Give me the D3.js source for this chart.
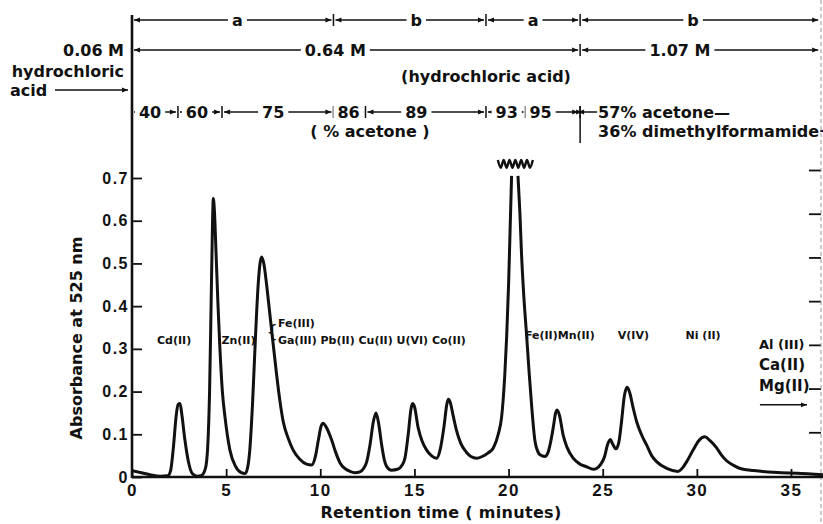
<!DOCTYPE html>
<html>
<head>
<meta charset="utf-8">
<script src="https://cdn.jsdelivr.net/npm/d3@7"></script>
<style>
body { margin: 0; background: #fff; }
svg { display: block; font-family: 'DejaVu Sans', sans-serif; fill: #111; font-weight: bold; }
.axis text { font-size: 16px; letter-spacing: 1.5px; fill: #111; font-weight: bold; }
.axis line { stroke: #111; stroke-width: 1.8px; }
.hdr { font-size: 16px; }
.peak { font-size: 11px; }
</style>
</head>
<body>
<svg id="chart"></svg>
<script>
// chromatogram (minutes, absorbance); null = peak off scale
const retentionTime = [0, 0.5, 1.0, 1.5, 1.9, 2.05, 2.2, 2.35, 2.45, 2.55, 2.65, 2.8, 3.0, 3.2, 3.45, 3.7, 3.9,
  4.02, 4.12, 4.2, 4.27, 4.32, 4.38, 4.46, 4.56, 4.67, 4.8, 4.94, 5.2, 5.5, 5.8, 6.0,
  6.1, 6.25, 6.4, 6.55, 6.7, 6.8, 6.88, 7.0, 7.15, 7.3, 7.45, 7.68, 7.85, 8.03, 8.3, 8.56, 8.9, 9.27, 9.54,
  9.75, 9.9, 10.05, 10.15, 10.3, 10.6, 10.8, 11.05, 11.3, 11.58, 11.84,
  12.1, 12.3, 12.46, 12.64, 12.82, 12.96, 13.1, 13.26, 13.4, 13.52, 13.79,
  14.1, 14.35, 14.5, 14.67, 14.82, 14.9, 15.0, 15.2, 15.4, 15.65, 15.9, 16.18,
  16.36, 16.57, 16.72, 16.8, 16.9, 17.05, 17.23, 17.45, 17.76, 18.0, 18.3,
  18.6, 18.9, 19.19, 19.45, 19.63, 19.8, 19.9, 20.0, 20.07, 20.16, 20.33, 20.5, 20.6, 20.69, 20.8, 20.96,
  21.1, 21.22, 21.4, 21.55, 21.67, 21.93, 22.1, 22.2, 22.37, 22.5, 22.58, 22.7, 22.9, 23.1, 23.43, 23.8,
  24.14, 24.5, 24.67, 24.9, 25.1, 25.25, 25.4, 25.52, 25.7, 25.85, 26.0, 26.15, 26.3, 26.45, 26.6, 26.8,
  27.05, 27.33, 27.6, 27.86, 28.4, 29.0, 29.25, 29.46, 29.8, 30.1, 30.43, 30.7, 31.05, 31.3, 31.58,
  32.0, 32.3, 33.0, 33.5, 34.5, 35.3, 36.7];
const absorbance = [0.015, 0.010, 0.005, 0.002, 0.003, 0.015, 0.07, 0.145, 0.17, 0.172, 0.145, 0.09, 0.035, 0.008, 0.002, 0.004, 0.02,
  0.07, 0.2, 0.4, 0.58, 0.652, 0.62, 0.53, 0.41, 0.30, 0.2, 0.14, 0.063, 0.025, 0.01, 0.008,
  0.015, 0.06, 0.17, 0.32, 0.45, 0.5, 0.515, 0.5, 0.45, 0.39, 0.33, 0.24, 0.18, 0.13, 0.09, 0.063, 0.042, 0.03, 0.028,
  0.05, 0.087, 0.12, 0.126, 0.118, 0.087, 0.06, 0.033, 0.02, 0.013, 0.01,
  0.012, 0.02, 0.035, 0.075, 0.13, 0.15, 0.125, 0.075, 0.04, 0.025, 0.016,
  0.018, 0.028, 0.045, 0.10, 0.16, 0.172, 0.165, 0.115, 0.085, 0.063, 0.05, 0.044,
  0.063, 0.118, 0.17, 0.182, 0.175, 0.145, 0.11, 0.08, 0.058, 0.048, 0.044,
  0.048, 0.056, 0.068, 0.1, 0.14, 0.24, 0.33, 0.45, 0.56, 0.705, null, 0.705, 0.62, 0.52, 0.43, 0.33,
  0.24, 0.17, 0.085, 0.06, 0.052, 0.048, 0.058, 0.075, 0.115, 0.15, 0.157, 0.145, 0.098, 0.07, 0.044, 0.03,
  0.024, 0.018, 0.02, 0.03, 0.048, 0.075, 0.088, 0.078, 0.066, 0.08, 0.13, 0.19, 0.21, 0.195, 0.165, 0.13,
  0.1, 0.075, 0.05, 0.036, 0.02, 0.013, 0.022, 0.036, 0.063, 0.085, 0.094, 0.085, 0.068, 0.052, 0.038,
  0.026, 0.02, 0.015, 0.013, 0.01, 0.009, 0.005];

const xTicks = [0, 5, 10, 15, 20, 25, 30, 35];
const yTicks = [0, 0.1, 0.2, 0.3, 0.4, 0.5, 0.6, 0.7];

// elution programme (minutes where each step changes)
const runEnd = 36.55;
const eluentSteps = [10.7, 18.8, 23.8];
const eluentLabels = ['a', 'b', 'a', 'b'];
const eluentLabelAt = [5.6, 15.1, 21.3, 29.8];
const hclSteps = [23.8];
const hclLabels = ['0.64 M', '1.07 M'];
const hclLabelAt = [10.8, 29.1];
const acetoneSteps = [2.44, 4.78, 10.7, 12.4, 18.8, 20.9, 23.8];
const acetoneLabels = ['40', '60', '75', '86', '89', '93', '95'];
const acetoneLabelAt = [0.96, 3.45, 7.5, 11.5, 15.1, 19.9, 21.7];

// peak names and where they sit (minutes, absorbance)
const peakNames = ['Cd(II)', 'Zn(II)', 'Fe(III)', 'Ga(III) Pb(II) Cu(II) U(VI) Co(II)', 'Fe(II)Mn(II)', 'V(IV)', 'Ni (II)'];
const peakNameT = [1.33, 4.75, 7.75, 7.75, 20.87, 25.8, 29.4];
const peakNameA = [0.32, 0.32, 0.36, 0.32, 0.333, 0.333, 0.333];
const notElutedNames = ['Al (III)', 'Ca(II)', 'Mg(II)'];
const notElutedA = [0.31, 0.262, 0.215];

const chartSize = { width: 823, height: 524 };
const rows = { eluent: 20, hcl: 50, acetone: 112 };

const x = d3.scaleLinear().domain([0, 35]).range([132, 791]);
const y = d3.scaleLinear().domain([0, 0.7]).range([477, 178]);
const yRight = d3.scaleLinear().domain([0, 0.7]).range([476, 170]);

const svg = d3.select('#chart')
  .attr('width', chartSize.width)
  .attr('height', chartSize.height);

svg.append('defs').append('marker')
  .attr('id', 'arrow')
  .attr('viewBox', '0 0 10 10')
  .attr('refX', 10).attr('refY', 5)
  .attr('markerWidth', 7).attr('markerHeight', 6)
  .attr('markerUnits', 'userSpaceOnUse')
  .attr('orient', 'auto-start-reverse')
  .append('path').attr('d', 'M0,1L10,5L0,9Z').attr('fill', '#111');

const hline = (g, x1, x2, cy, start, end) => g.append('line')
  .attr('x1', x1).attr('x2', x2).attr('y1', cy).attr('y2', cy)
  .attr('stroke', '#111').attr('stroke-width', 1.5)
  .attr('marker-start', start ? 'url(#arrow)' : null)
  .attr('marker-end', end ? 'url(#arrow)' : null);

// white patch behind text sitting on a line
const clearBehind = (g) => {
  g.selectAll('text').each(function () {
    const b = this.getBBox();
    g.insert('rect', 'text')
      .attr('x', b.x - 4).attr('y', b.y + 2)
      .attr('width', b.width + 8).attr('height', b.height - 4)
      .attr('fill', '#fff');
  });
};

const drawRow = (cy, steps, labels, labelAt, last) => {
  const g = svg.append('g');
  const bounds = [0, ...steps, last];
  d3.pairs(bounds).forEach(([a, b]) => hline(g, x(a) + 2, x(b) - 2, cy, true, true));
  g.selectAll('.div').data(steps).join('line')
    .attr('x1', d => x(d)).attr('x2', d => x(d))
    .attr('y1', cy - 6).attr('y2', cy + 6)
    .attr('stroke', '#111').attr('stroke-width', 1.5);
  g.selectAll('text').data(labels).join('text')
    .attr('class', 'hdr')
    .attr('x', (d, i) => x(labelAt[i]))
    .attr('y', cy)
    .attr('dy', '0.36em')
    .attr('text-anchor', 'middle')
    .text(d => d);
  clearBehind(g);
  return g;
};

drawRow(rows.eluent, eluentSteps, eluentLabels, eluentLabelAt, runEnd);
drawRow(rows.hcl, hclSteps, hclLabels, hclLabelAt, runEnd);
drawRow(rows.acetone, acetoneSteps, acetoneLabels, acetoneLabelAt, d3.max(acetoneSteps));

// header captions
const cap = (tx, ty, text, anchor) => svg.append('text')
  .attr('class', 'hdr').attr('x', tx).attr('y', ty).attr('dy', '0.36em')
  .attr('text-anchor', anchor || 'start').text(text);

cap(124, rows.hcl, '0.06 M', 'end');
cap(124, 71, 'hydrochloric', 'end');
cap(10, 90, 'acid');
hline(svg, 55, 128, 90, false, true);
cap(486, 76, '(hydrochloric acid)', 'middle');
cap(370, 131, '( %  acetone )', 'middle');

const stepX = x(d3.max(acetoneSteps));
hline(svg, stepX, stepX + 17, rows.acetone, false, false);
cap(stepX + 18, rows.acetone, '57% acetone—');
const dmf = cap(stepX + 18, 131, '36% dimethylformamide');
const dmfEnd = stepX + 18 + dmf.node().getComputedTextLength();
hline(svg, dmfEnd + 3, x(runEnd), 131, false, true);
svg.append('line')
  .attr('x1', stepX).attr('x2', stepX)
  .attr('y1', rows.acetone - 6).attr('y2', 143)
  .attr('stroke', '#111').attr('stroke-width', 1.5);

// axes
const xAxis = svg.append('g').attr('class', 'axis')
  .attr('transform', `translate(0,${y(0)})`)
  .call(d3.axisBottom(x).tickValues(xTicks).tickSize(-8).tickPadding(7).tickFormat(d3.format('d')));
xAxis.select('.domain').remove();
xAxis.selectAll('.tick text').style('font-size', '17px');

const yAxis = svg.append('g').attr('class', 'axis')
  .attr('transform', `translate(${x(0)},0)`)
  .call(d3.axisLeft(y).tickValues(yTicks).tickSize(-10).tickPadding(3)
    .tickFormat(d => d === 0 ? '0' : d.toFixed(1)));
yAxis.select('.domain').remove();

const rAxis = svg.append('g').attr('class', 'axis')
  .attr('transform', 'translate(821,0)')
  .call(d3.axisRight(yRight).tickValues(yTicks.slice(1)).tickSize(-12).tickFormat(''));
rAxis.select('.domain').remove();
svg.append('line')
  .attr('x1', 821).attr('x2', 821).attr('y1', 0).attr('y2', chartSize.height)
  .attr('stroke', '#999').attr('stroke-width', 1).attr('stroke-dasharray', '4,3');

svg.append('line')
  .attr('x1', x(0)).attr('x2', x(0)).attr('y1', 15).attr('y2', y(0) + 1)
  .attr('stroke', '#111').attr('stroke-width', 2.6);
svg.append('line')
  .attr('x1', x(0)).attr('x2', chartSize.width).attr('y1', y(0)).attr('y2', y(0))
  .attr('stroke', '#111').attr('stroke-width', 2.6);

svg.append('text')
  .attr('transform', `translate(82,338) rotate(-90)`)
  .attr('text-anchor', 'middle')
  .style('font-size', '16px')
  .text('Absorbance at 525 nm');
svg.append('text')
  .attr('x', 441).attr('y', 518)
  .attr('text-anchor', 'middle')
  .style('font-size', '16px').style('letter-spacing', '0.3px')
  .text('Retention time ( minutes)');

// trace
const trace = retentionTime.map((t, i) => ({ t, a: absorbance[i] }));
const line = d3.line()
  .defined(d => d.a !== null)
  .x(d => x(d.t))
  .y(d => y(d.a))
  .curve(d3.curveMonotoneX);
svg.append('path')
  .datum(trace)
  .attr('fill', 'none')
  .attr('stroke', '#111')
  .attr('stroke-width', 3)
  .attr('stroke-linejoin', 'round')
  .attr('d', line);

// off-scale mark above the big peak
const zig = d3.range(13).map(i => [x(19.43) + i * (x(21.29) - x(19.43)) / 12, y(i % 2 ? 0.724 : 0.742)]);
svg.append('path')
  .attr('d', d3.line().curve(d3.curveMonotoneX)(zig))
  .attr('fill', 'none').attr('stroke', '#111').attr('stroke-width', 2.4);

// peak labels
svg.selectAll('.peak').data(peakNames).join('text')
  .attr('class', 'peak')
  .attr('x', (d, i) => x(peakNameT[i]))
  .attr('y', (d, i) => y(peakNameA[i]))
  .attr('dy', '0.36em')
  .text(d => d);
svg.append('text')
  .attr('x', x(7.75)).attr('y', y(0.34)).attr('dy', '0.36em')
  .attr('text-anchor', 'end')
  .style('font-size', '18px').style('font-weight', 'normal')
  .text('{');

svg.selectAll('.stay').data(notElutedNames).join('text')
  .attr('class', 'stay')
  .attr('x', x(33.3))
  .attr('y', (d, i) => y(notElutedA[i]))
  .attr('dy', '0.36em')
  .style('font-size', (d, i) => i ? '15px' : '13px')
  .text(d => d);
hline(svg, x(33.35), x(35.85), y(0.169), false, true);
</script>
</body>
</html>
